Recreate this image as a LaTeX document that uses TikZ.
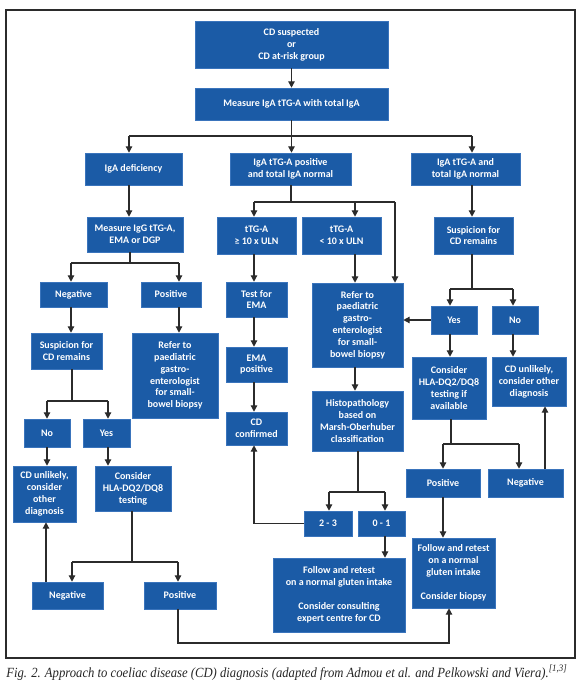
\documentclass[tikz,border=0pt]{standalone}
\usepackage{fontspec}
\usepackage{graphicx}
\usetikzlibrary{arrows.meta,calc}
\newfontfamily\cdboxfont{Carlito}
\newfontfamily\cdcapfont{Liberation Serif}[FakeStretch=0.905]
\definecolor{cdblue}{HTML}{1B5BA6}
\definecolor{cdedge}{HTML}{3A74BC}
\definecolor{cdline}{HTML}{2B2B2B}
\newcommand{\cdbox}[6]{%
  \node[cdb, minimum width={(#4-#2)*0.75pt}, minimum height={(#5-#3)*0.75pt}]
    (#1) at ({(#2+#4)/2},{(#3+#5)/2}) {#6};}
\begin{document}
\begin{tikzpicture}[x=0.75pt,y=-0.75pt,
  cdb/.style={fill=cdblue, draw=cdedge, line width=0.4pt, text=white, align=center,
    inner sep=0pt, font=\cdboxfont\bfseries\fontsize{7.5}{8.9}\selectfont},
  ln/.style={draw=cdline, line width=0.95pt},
  arr/.style={ln, -{Triangle[length=4.8pt,width=4.8pt]}}]
\useasboundingbox (0,0) rectangle (580,688);
\fill[white] (0,0) rectangle (580,688);
\draw[cdline, line width=0.9pt] (6,10) rectangle (575,658);

\cdbox{top}{195}{21}{388}{68}{CD suspected\\or\\CD at-risk group}
\cdbox{measure}{195}{88}{388}{120}{Measure IgA tTG-A with total IgA}
\cdbox{igadef}{85}{153}{182}{185}{IgA deficiency}
\cdbox{igapos}{230}{153}{351}{185}{IgA tTG-A positive\\and total IgA normal}
\cdbox{iganorm}{411}{153}{520}{185}{IgA tTG-A and\\total IgA normal}
\cdbox{measg}{87}{217}{183}{252}{Measure IgG tTG-A,\\EMA or DGP}
\cdbox{tge}{217}{217}{296}{254}{tTG-A\\≥ 10 x ULN}
\cdbox{tlt}{302}{217}{381}{254}{tTG-A\\< 10 x ULN}
\cdbox{suspR}{434}{217}{513}{254}{Suspicion for\\CD remains}
\cdbox{negL}{40}{282}{107}{307}{Negative}
\cdbox{posL}{141}{282}{201}{307}{Positive}
\cdbox{testema}{226}{282}{287}{317}{Test for\\EMA}
\cdbox{referM}{312}{283}{403}{367}{Refer to\\paediatric\\gastro-\\enterologist\\for small-\\bowel biopsy}
\cdbox{yesR}{431}{306}{477}{334}{Yes}
\cdbox{noR}{492}{306}{538}{334}{No}
\cdbox{suspL}{31}{333}{102}{369}{Suspicion for\\CD remains}
\cdbox{referL}{132}{333}{218}{418}{Refer to\\paediatric\\gastro-\\enterologist\\for small-\\bowel biopsy}
\cdbox{emapos}{226}{347}{287}{382}{EMA\\positive}
\cdbox{cdconf}{226}{412}{287}{445}{CD\\confirmed}
\cdbox{hlaR}{412}{357}{486}{419}{Consider\\HLA-DQ2/DQ8\\testing if\\available}
\cdbox{unlR}{492}{357}{566}{406}{CD unlikely,\\consider other\\diagnosis}
\cdbox{histo}{312}{391}{403}{451}{Histopathology\\based on\\Marsh-Oberhuber\\classification}
\cdbox{noL}{24}{419}{70}{447}{No}
\cdbox{yesL}{83}{419}{130}{447}{Yes}
\cdbox{unlL}{13}{466}{76}{522}{CD unlikely,\\consider\\other\\diagnosis}
\cdbox{hlaL}{95}{466}{171}{511}{Consider\\HLA-DQ2/DQ8\\testing}
\cdbox{posR}{406}{469}{480}{497}{Positive}
\cdbox{negR}{488}{469}{563}{497}{Negative}
\cdbox{twothree}{304}{511}{352}{536}{2 - 3}
\cdbox{zeroone}{358}{511}{405}{536}{0 - 1}
\cdbox{followR}{412}{538}{495}{608}{Follow and retest\\on a normal\\gluten intake\\[8.9pt]Consider biopsy}
\cdbox{followM}{273}{558}{405}{632}{Follow and retest\\on a normal gluten intake\\[8.9pt]Consider consulting\\expert centre for CD}
\cdbox{negLL}{32}{582}{103}{609}{Negative}
\cdbox{posLL}{144}{582}{216}{609}{Positive}

% junction coordinates
\coordinate (j1) at (291.5,136);
\coordinate (j1l) at (129,136);
\coordinate (j1r) at (472,136);
\coordinate (j2) at (291,202);
\coordinate (j2l) at (254,202);
\coordinate (j2m) at (355,202);
\coordinate (j2r) at (395,202);
\coordinate (j3) at (130,263);
\coordinate (j3l) at (71,263);
\coordinate (j3r) at (179,263);
\coordinate (j4) at (72,401);
\coordinate (j4l) at (47,401);
\coordinate (j4r) at (108,401);
\coordinate (j5) at (132,562);
\coordinate (j5l) at (72,562);
\coordinate (j5r) at (178,562);
\coordinate (j6) at (46,600);
\coordinate (j7) at (178,643);
\coordinate (j7r) at (449,643);
\coordinate (j8) at (358,492);
\coordinate (j8l) at (329,492);
\coordinate (j8r) at (385,492);
\coordinate (j9) at (472,289);
\coordinate (j9l) at (450,289);
\coordinate (j9r) at (513,289);
\coordinate (j10) at (451,444);
\coordinate (j10l) at (443,444);
\coordinate (j10r) at (519,444);
\coordinate (j11) at (545,480);

% top
\draw[arr] (top.south) -- (measure.north);
\draw[ln] (measure.south -| j1) -- (j1);
\draw[ln] (j1l) -- (j1r);
\draw[arr] (j1l) -- (j1l |- igadef.north);
\draw[arr] (j1) -- (j1 |- igapos.north);
\draw[arr] (j1r) -- (j1r |- iganorm.north);

% left column
\draw[arr] (j1l |- igadef.south) -- (j1l |- measg.north);
\draw[ln] (j3 |- measg.south) -- (j3);
\draw[ln] (j3l) -- (j3r);
\draw[arr] (j3l) -- (j3l |- negL.north);
\draw[arr] (j3r) -- (j3r |- posL.north);
\draw[arr] (j3l |- negL.south) -- (j3l |- suspL.north);
\draw[arr] (j3r |- posL.south) -- (j3r |- referL.north);
\draw[ln] (j4 |- suspL.south) -- (j4);
\draw[ln] (j4l) -- (j4r);
\draw[arr] (j4l) -- (j4l |- noL.north);
\draw[arr] (j4r) -- (j4r |- yesL.north);
\draw[arr] (j4l |- noL.south) -- (j4l |- unlL.north);
\draw[arr] (j4r |- yesL.south) -- (j4r |- hlaL.north);
\draw[ln] (j5 |- hlaL.south) -- (j5);
\draw[ln] (j5l) -- (j5r);
\draw[arr] (j5l) -- (j5l |- negLL.north);
\draw[arr] (j5r) -- (j5r |- posLL.north);
\draw[arr] (j6 |- negLL.north) -- (j6 |- unlL.south);
\draw[arr] (j7 |- posLL.south) -- (j7) -- (j7r) -- (j7r |- followR.south);

% middle column
\draw[ln] (j2 |- igapos.south) -- (j2);
\draw[ln] (j2l) -- (j2r);
\draw[arr] (j2l) -- (j2l |- tge.north);
\draw[arr] (j2m) -- (j2m |- tlt.north);
\draw[arr] (j2r) -- (j2r |- referM.north);
\draw[arr] (j2l |- tge.south) -- (j2l |- testema.north);
\draw[arr] (j2l |- testema.south) -- (j2l |- emapos.north);
\draw[arr] (j2l |- emapos.south) -- (j2l |- cdconf.north);
\draw[arr] (j2m |- tlt.south) -- (j2m |- referM.north);
\draw[arr] (j2m |- referM.south) -- (j2m |- histo.north);
\draw[ln] (j8 |- histo.south) -- (j8);
\draw[ln] (j8l) -- (j8r);
\draw[arr] (j8l) -- (j8l |- twothree.north);
\draw[arr] (j8r) -- (j8r |- zeroone.north);
\draw[arr] (twothree.west) -- (j2l |- twothree.west) -- (j2l |- cdconf.south);
\draw[arr] (j8r |- zeroone.south) -- (j8r |- followM.north);

% right column
\draw[arr] (j1r |- iganorm.south) -- (j1r |- suspR.north);
\draw[ln] (j9 |- suspR.south) -- (j9);
\draw[ln] (j9l) -- (j9r);
\draw[arr] (j9l) -- (j9l |- yesR.north);
\draw[arr] (j9r) -- (j9r |- noR.north);
\draw[arr] (yesR.west) -- (yesR.west -| referM.east);
\draw[arr] (j9l |- yesR.south) -- (j9l |- hlaR.north);
\draw[arr] (j9r |- noR.south) -- (j9r |- unlR.north);
\draw[ln] (j10 |- hlaR.south) -- (j10);
\draw[ln] (j10l) -- (j10r);
\draw[arr] (j10l) -- (j10l |- posR.north);
\draw[arr] (j10r) -- (j10r |- negR.north);
\draw[arr] (j10l |- posR.south) -- (j10l |- followR.north);
\draw[arr] (j11 |- negR.north) -- (j11 |- unlR.south);

% caption
\node[anchor=base west, inner sep=0pt, text=black!85,
  font=\cdcapfont\itshape\fontsize{10.5}{12}\selectfont] (caption) at (6,677)
  {Fig. 2. Approach to coeliac disease (CD) diagnosis (adapted from Admou et al. and Pelkowski and Viera).\textsuperscript{[1,3]}};
\end{tikzpicture}
\end{document}
